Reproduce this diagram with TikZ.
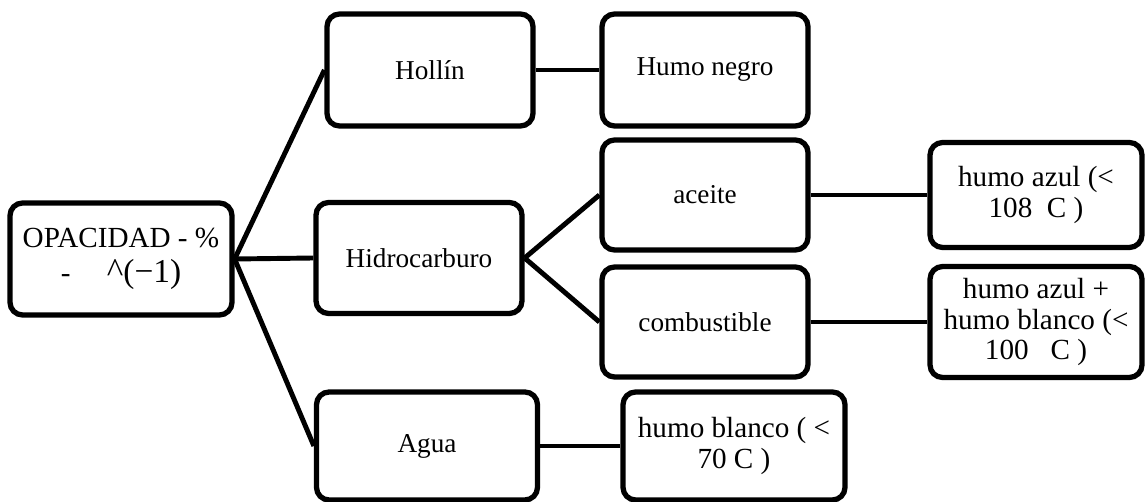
\documentclass[tikz,border=0pt]{standalone}
\usepackage{fontspec}
\setmainfont{Liberation Serif}

\begin{document}
\begin{tikzpicture}[x=0.02cm,y=-0.02cm,
  op_box/.style={draw=black,line width=3pt,rounded corners=0.25cm,fill=white,
    align=center,inner sep=2pt,font=\fontsize{15.5}{18.5}\selectfont},
  op_big/.style={op_box,font=\fontsize{16.6}{17.6}\selectfont},
  op_line/.style={line width=2.8pt,draw=black}]

\useasboundingbox (0,0) rectangle (1145,502);

% ------------------------------------------------ boxes
\node[op_big,minimum width=4.44cm,minimum height=2.24cm] (opacidad) at (121,259)
  {OPACIDAD - \%\\[2pt] -\quad\ {\fontsize{20}{18}\selectfont\textasciicircum}{\fontsize{19}{18}\selectfont(−1)}};

\node[op_box,minimum width=4.12cm,minimum height=2.24cm] (hollin) at (430,70)  {Hollín};
\node[op_box,minimum width=4.12cm,minimum height=2.22cm] (hidro)  at (419,258) {Hidrocarburo};
\node[op_box,minimum width=4.42cm,minimum height=2.16cm] (agua)   at (427,446) {Agua};

\node[op_box,minimum width=4.12cm,minimum height=2.24cm] (negro)  at (705,70)  {Humo negro};
\node[op_box,minimum width=4.12cm,minimum height=2.2cm]  (aceite) at (705,195) {aceite};
\node[op_box,minimum width=4.12cm,minimum height=2.2cm]  (comb)   at (705,322) {combustible};
\node[op_big,minimum width=4.44cm,minimum height=2.16cm] (blanco) at (734,446) {humo blanco ( <\\ 70 C )};

\node[op_big,minimum width=4.24cm,minimum height=2.1cm]  (azul)   at (1036,195) {humo azul (<\\ 108\ \ C )};
\node[op_big,minimum width=4.24cm,minimum height=2.22cm] (azulb)  at (1036,322) {humo azul +\\ humo blanco (<\\ 100\ \ \ C )};

% ------------------------------------------------ connectors
\draw[op_line] (opacidad.east) -- (hollin.west);
\draw[op_line] (opacidad.east) -- (hidro.west);
\draw[op_line] (opacidad.east) -- (agua.west);

\draw[op_line] (hollin.east) -- (negro.west);
\draw[op_line] (hidro.east)  -- (aceite.west);
\draw[op_line] (hidro.east)  -- (comb.west);
\draw[op_line] (agua.east)   -- (blanco.west);

\draw[op_line] (aceite.east) -- (azul.west);
\draw[op_line] (comb.east)   -- (azulb.west);

\end{tikzpicture}
\end{document}
